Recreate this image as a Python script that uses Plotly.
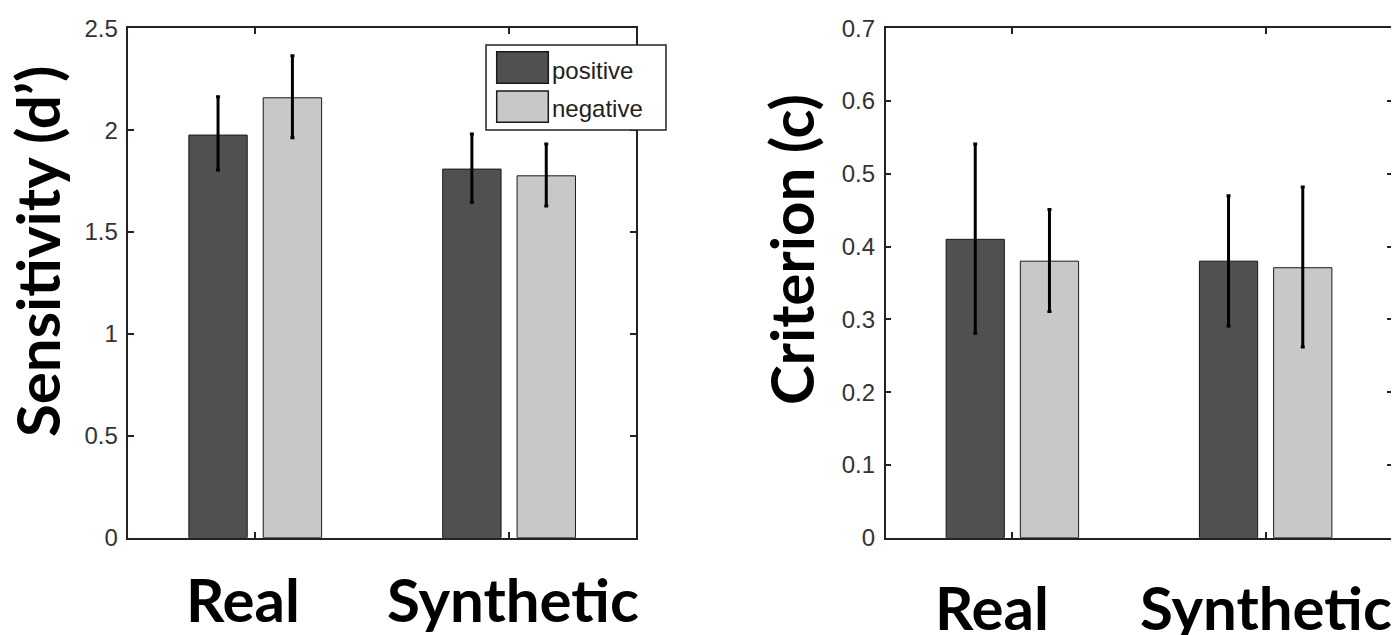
import plotly.graph_objects as go

# ---------------- data ----------------
categories = ["Real", "Synthetic"]
series_names = ["positive", "negative"]
series_colors = ["#505050", "#c8c8c8"]

sens_positive = [1.976, 1.809]
sens_positive_hi = [2.164, 1.981]
sens_positive_lo = [1.804, 1.646]
sens_negative = [2.159, 1.776]
sens_negative_hi = [2.365, 1.932]
sens_negative_lo = [1.963, 1.628]

crit_positive = [0.410, 0.380]
crit_positive_hi = [0.541, 0.470]
crit_positive_lo = [0.281, 0.291]
crit_negative = [0.380, 0.371]
crit_negative_hi = [0.451, 0.482]
crit_negative_lo = [0.311, 0.262]

left_title = "Sensitivity (d\u2019)"
right_title = "Criterion (c)"

# ---------------- figure ----------------
# page body has an 8px margin; figure sized to fill the remaining window
OFF = 8
W, H = 1399 - OFF, 635 - OFF

def px(x):
    return (x - OFF) / W

def py(y):
    return 1 - (y - OFF) / H

fig = go.Figure()

def add_bar(xa, ya, vals, hi, lo, name, color):
    fig.add_trace(go.Bar(
        x=categories, y=vals, name=name, xaxis=xa, yaxis=ya,
        marker=dict(color=color, line=dict(color="#1a1a1a", width=1)),
        error_y=dict(type="data", symmetric=False,
                     array=[h - v for h, v in zip(hi, vals)],
                     arrayminus=[v - l for v, l in zip(vals, lo)],
                     color="black", thickness=3, width=2),
        showlegend=False, offsetgroup=name,
    ))

add_bar("x", "y", sens_positive, sens_positive_hi, sens_positive_lo, series_names[0], series_colors[0])
add_bar("x", "y", sens_negative, sens_negative_hi, sens_negative_lo, series_names[1], series_colors[1])
add_bar("x2", "y2", crit_positive, crit_positive_hi, crit_positive_lo, series_names[0], series_colors[0])
add_bar("x2", "y2", crit_negative, crit_negative_hi, crit_negative_lo, series_names[1], series_colors[1])

line_col = "#222222"
tick_font = dict(family="Liberation Sans, Arial, sans-serif", size=24, color="#333333")

def xaxis_cfg(domain, anchor):
    return dict(domain=domain, anchor=anchor, type="category", range=[-0.5, 1.5],
                showline=True, linecolor=line_col, linewidth=1.5, mirror="ticks",
                ticks="inside", ticklen=6, tickwidth=1.5, tickcolor=line_col,
                showticklabels=False, showgrid=False, zeroline=False,
                fixedrange=True, automargin=False)

def yaxis_cfg(domain, anchor, rng, dtick):
    return dict(domain=domain, anchor=anchor, range=rng, dtick=dtick, tick0=0,
                showline=True, linecolor=line_col, linewidth=1.5, mirror="ticks",
                ticks="inside", ticklen=6, tickwidth=1.5, tickcolor=line_col,
                tickfont=tick_font, ticklabelstandoff=4,
                showgrid=False, zeroline=False, fixedrange=True, automargin=False)

ydom = [py(537.7), py(28.3)]
fig.update_layout(
    width=W, height=H,
    margin=dict(l=0, r=0, t=0, b=0, autoexpand=False),
    paper_bgcolor="white", plot_bgcolor="white",
    barmode="group", bargap=0.414, bargroupgap=0.215,
    showlegend=False,
    xaxis=xaxis_cfg([px(128.3), px(636)], "y"),
    yaxis=yaxis_cfg(ydom, "x", [0, 2.5], 0.5),
    xaxis2=xaxis_cfg([px(885.7), px(1392.3)], "y2"),
    yaxis2=yaxis_cfg(ydom, "x2", [0, 0.7], 0.1),
)

big_font = dict(family="Lato, 'Open Sans', sans-serif", size=60, color="black")

annotations = []
# y-axis titles
annotations.append(dict(text="<b>%s</b>" % left_title, xref="paper", yref="paper",
                        x=px(37), y=py(252), textangle=-90, showarrow=False,
                        font=big_font, xanchor="center", yanchor="middle"))
annotations.append(dict(text="<b>%s</b>" % right_title, xref="paper", yref="paper",
                        x=px(791), y=py(250), textangle=-90, showarrow=False,
                        font=big_font, xanchor="center", yanchor="middle"))
# category labels
xshifts = [-12, 4]
for i, c in enumerate(categories):
    annotations.append(dict(text="<b>%s</b>" % c, xref="x", yref="paper", x=c,
                            y=py(598.5), xshift=xshifts[i], showarrow=False,
                            font=big_font, xanchor="center", yanchor="middle"))
xshifts2 = [-20, 0]
for i, c in enumerate(categories):
    annotations.append(dict(text="<b>%s</b>" % c, xref="x2", yref="paper", x=c,
                            y=py(606.5), xshift=xshifts2[i], showarrow=False,
                            font=big_font, xanchor="center", yanchor="middle"))

# legend (drawn manually to match the large swatches)
shapes = []
shapes.append(dict(type="rect", xref="paper", yref="paper",
                   x0=px(486), x1=px(666), y0=py(130), y1=py(45),
                   line=dict(color=line_col, width=1.5), fillcolor="white", layer="above"))
sw_y = [(51.7, 83.3), (91.0, 122.3)]
txt_y = [70.5, 108.5]
for i, name in enumerate(series_names):
    shapes.append(dict(type="rect", xref="paper", yref="paper",
                       x0=px(496.7), x1=px(548.3),
                       y0=py(sw_y[i][1]), y1=py(sw_y[i][0]),
                       line=dict(color="#1a1a1a", width=1.5),
                       fillcolor=series_colors[i], layer="above"))
    annotations.append(dict(text=name, xref="paper", yref="paper",
                            x=px(550), y=py(txt_y[i]), showarrow=False,
                            xanchor="left", yanchor="middle",
                            font=dict(family="Liberation Sans, Arial, sans-serif",
                                      size=24, color="#222222")))

fig.update_layout(annotations=annotations, shapes=shapes)
fig.write_html("out.html")
